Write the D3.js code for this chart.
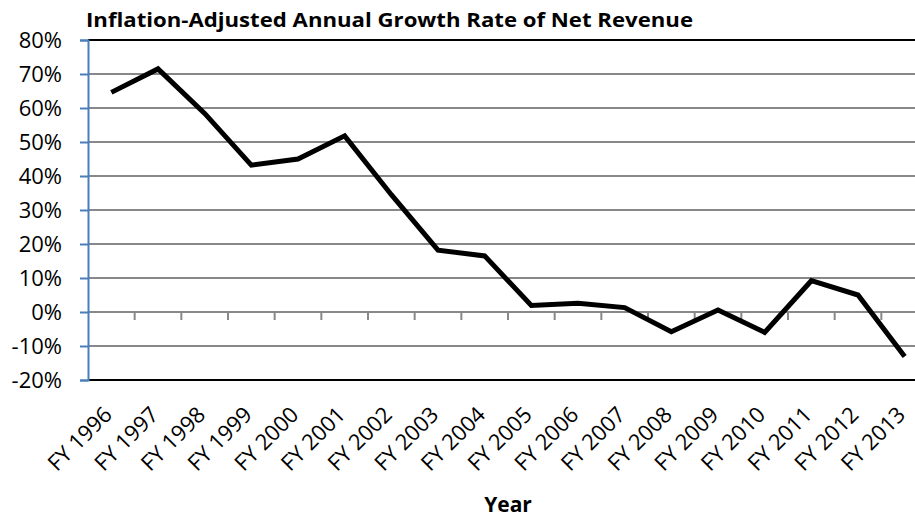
<!DOCTYPE html>
<html>
<head>
<meta charset="utf-8">
<script src="https://cdn.jsdelivr.net/npm/d3@7"></script>
<style>
  html, body { margin: 0; padding: 0; background: #fff; }
  svg { display: block; font-family: "Open Sans", "Noto Sans", sans-serif; }
</style>
</head>
<body>
<svg id="chart" width="915" height="519"></svg>
<script>
// Fiscal years and inflation-adjusted growth of net revenue (percent)
const years = ["FY 1996","FY 1997","FY 1998","FY 1999","FY 2000","FY 2001","FY 2002","FY 2003","FY 2004",
               "FY 2005","FY 2006","FY 2007","FY 2008","FY 2009","FY 2010","FY 2011","FY 2012","FY 2013"];
const growth = [64.6, 71.5, 58.4, 43.2, 45.0, 51.8, 34.5, 18.2, 16.5,
                1.9, 2.6, 1.3, -5.8, 0.6, -6.0, 9.2, 5.0, -13.1];
const yTicks = [-20, -10, 0, 10, 20, 30, 40, 50, 60, 70, 80];
const titleText = "Inflation-Adjusted Annual Growth Rate of Net Revenue";
const xTitle = "Year";

const svg = d3.select("#chart");
const plotLeft = 88, plotRight = 928, plotTop = 40, plotBottom = 380;

const x = d3.scaleBand().domain(years).range([plotLeft, plotRight]).padding(0);
const y = d3.scaleLinear().domain([-20, 80]).range([plotBottom, plotTop]);

// horizontal gridlines
svg.append("g").selectAll("line").data(yTicks.filter(t => t !== 80 && t !== -20)).join("line")
  .attr("x1", plotLeft).attr("x2", plotRight)
  .attr("y1", d => y(d)).attr("y2", d => y(d))
  .attr("stroke", "#888").attr("stroke-width", 2);

// plot frame top and bottom
[80, -20].forEach(v => {
  svg.append("line").attr("x1", plotLeft).attr("x2", plotRight)
    .attr("y1", y(v)).attr("y2", y(v))
    .attr("stroke", "#000").attr("stroke-width", 2);
});

// category tick marks on the zero line
const bounds = years.slice(1).map(c => x(c)).concat([plotRight]);
svg.append("g").selectAll("line").data(bounds).join("line")
  .attr("x1", d => d).attr("x2", d => d)
  .attr("y1", y(0)).attr("y2", y(0) + 8)
  .attr("stroke", "#888").attr("stroke-width", 2);

// value axis
const yAxis = svg.append("g").attr("transform", `translate(${plotLeft},0)`)
  .call(d3.axisLeft(y).tickValues(yTicks).tickFormat(d => d + "%").tickSize(8).tickPadding(18));
yAxis.select(".domain").attr("stroke", "#4a7ebb").attr("stroke-width", 2);
yAxis.selectAll(".tick line").attr("stroke", "#4a7ebb").attr("stroke-width", 2);
yAxis.selectAll(".tick text").attr("font-size", 22).attr("fill", "#000")
  .attr("font-family", "Open Sans, sans-serif");

// category labels, rotated
svg.append("g").selectAll("text").data(years).join("text")
  .attr("transform", d => `translate(${x(d) + x.bandwidth() / 2 + 2},${plotBottom + 36}) rotate(-45)`)
  .attr("text-anchor", "end")
  .attr("font-size", 22)
  .text(d => d);

// growth line
const line = d3.line()
  .x((d, i) => x(years[i]) + x.bandwidth() / 2)
  .y(d => y(d));
svg.append("path").datum(growth)
  .attr("d", line)
  .attr("fill", "none")
  .attr("stroke", "#000")
  .attr("stroke-width", 5)
  .attr("stroke-linejoin", "miter");

// titles
svg.append("text").attr("x", 86).attr("y", 27)
  .attr("font-size", 20).attr("font-weight", "bold")
  .attr("textLength", 607).attr("lengthAdjust", "spacingAndGlyphs")
  .text(titleText);

svg.append("text").attr("x", (plotLeft + plotRight) / 2).attr("y", 512)
  .attr("text-anchor", "middle").attr("font-size", 21).attr("font-weight", "bold")
  .text(xTitle);
</script>
</body>
</html>
